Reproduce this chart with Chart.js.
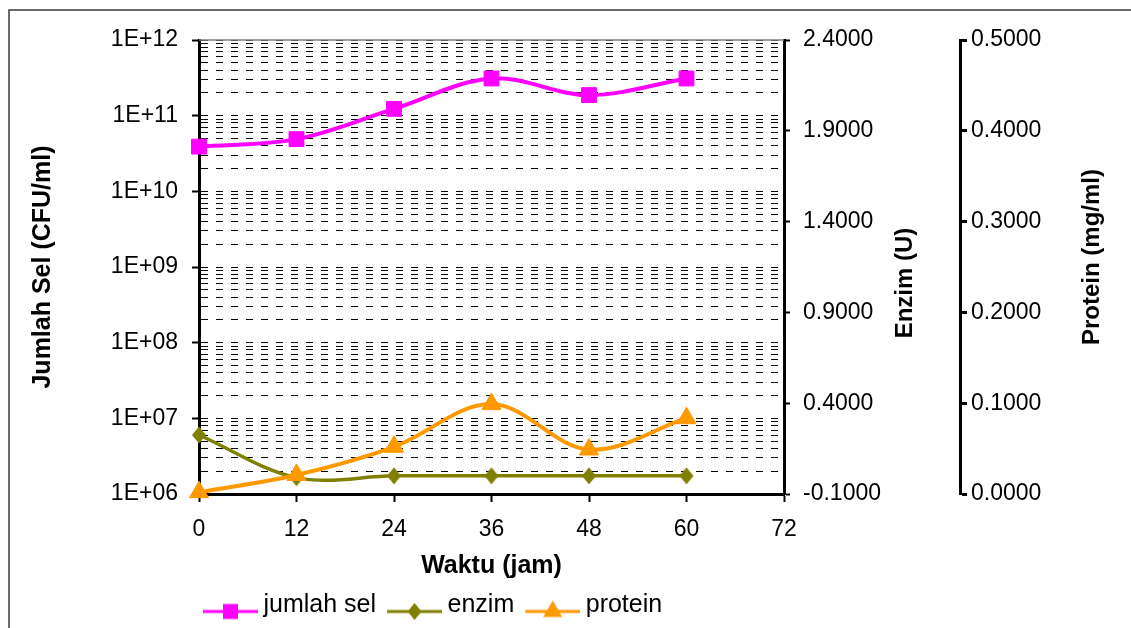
<!DOCTYPE html>
<html><head><meta charset="utf-8">
<script src="https://cdn.jsdelivr.net/npm/chart.js@4"></script>
<style>html,body{margin:0;padding:0;background:#fff}canvas{display:block}</style>
</head><body>
<canvas id="c" width="1131" height="628"></canvas>
<script>
// ---- data ----
const hours = [0, 12, 24, 36, 48, 60];
const jumlahSel = [3.9e10, 4.9e10, 1.23e11, 3.1e11, 1.87e11, 3.1e11];
const enzim = [0.225, -0.01, 0.0, 0.0, 0.0, 0.0];
const protein = [0.002, 0.021, 0.052, 0.099, 0.049, 0.0835];
const seriesNames = ['jumlah sel', 'enzim', 'protein'];
const xTicks = [0, 12, 24, 36, 48, 60, 72];
const selMajorTicks = [1e6, 1e7, 1e8, 1e9, 1e10, 1e11, 1e12];
const selTickLabels = ['1E+06', '1E+07', '1E+08', '1E+09', '1E+10', '1E+11', '1E+12'];
const selMinorFactors = [2, 3, 4, 5, 6, 7, 8, 9];
const enzimTicks = [-0.1, 0.4, 0.9, 1.4, 1.9, 2.4];
const proteinTicks = [0, 0.1, 0.2, 0.3, 0.4, 0.5];
const axisTitles = { x: 'Waktu (jam)', sel: 'Jumlah Sel (CFU/ml)', enzim: 'Enzim (U)', protein: 'Protein (mg/ml)' };

const selAllTicks = [];
selMajorTicks.forEach((m, i) => {
  selAllTicks.push(m);
  if (i < selMajorTicks.length - 1) selMinorFactors.forEach(f => selAllTicks.push(f * m));
});

const FONT = 'Liberation Sans';
Chart.defaults.font.family = FONT;
Chart.defaults.color = '#000';

const C_SEL = '#FF00FF', C_ENZ = '#808000', C_PRO = '#FF9900';

function drawShape(g, shape, cx, cy) {
  g.beginPath();
  if (shape === 'rect') g.rect(cx - 7.5, cy - 7.5, 15, 15);
  else if (shape === 'diamond') { g.moveTo(cx, cy - 8.5); g.lineTo(cx + 7, cy); g.lineTo(cx, cy + 8.5); g.lineTo(cx - 7, cy); g.closePath(); }
  else { g.moveTo(cx, cy - 11); g.lineTo(cx + 9.5, cy + 5.5); g.lineTo(cx - 9.5, cy + 5.5); g.closePath(); }
  g.fill();
}
function makeIcon(color, shape, lw) {
  const c = document.createElement('canvas');
  c.width = 59; c.height = 36;
  const g = c.getContext('2d');
  const cy = 24, cx = 31.5;
  g.strokeStyle = color; g.lineWidth = lw;
  g.beginPath(); g.moveTo(4, cy); g.lineTo(59, cy); g.stroke();
  g.fillStyle = color;
  drawShape(g, shape, cx, cy);
  return c;
}
function makeMarker(color, shape) {
  const c = document.createElement('canvas');
  c.width = 16; c.height = 20;
  const g = c.getContext('2d');
  g.fillStyle = color;
  drawShape(g, shape, 8, 10);
  return c;
}
const icons = [makeIcon(C_SEL, 'rect', 3), makeIcon(C_ENZ, 'diamond', 3), makeIcon(C_PRO, 'triangle', 3)];
const diamondMarker = makeMarker(C_ENZ, 'diamond');

const toXY = arr => hours.map((h, i) => ({ x: h, y: arr[i] }));

const extras = {
  id: 'extras',
  beforeDraw(chart) {
    const ctx = chart.ctx;
    ctx.save();
    ctx.fillStyle = '#fff';
    ctx.fillRect(0, 0, chart.width, chart.height);
    ctx.strokeStyle = '#3a3a3a';
    ctx.lineWidth = 1.5;
    ctx.strokeRect(9, 10, chart.width + 20, chart.height + 20);
    ctx.restore();
    chart.legend.left = chart.chartArea.left - 7;
  },
  beforeDatasetsDraw(chart) {
    const { ctx, chartArea: a } = chart;
    ctx.save();
    ctx.strokeStyle = '#808080';
    ctx.lineWidth = 1.5;
    ctx.beginPath();
    ctx.moveTo(a.left, a.top);
    ctx.lineTo(a.right, a.top);
    ctx.stroke();
    ctx.restore();
  },
  afterDraw(chart) {
    const { ctx, chartArea: a } = chart;
    const mid = (a.top + a.bottom) / 2;
    const sE = chart.scales.yE, sP = chart.scales.yP;
    [[axisTitles.enzim, sE.left + 121, mid + 16], [axisTitles.protein, sP.left + 132, mid - 10]].forEach(([t, x, y]) => {
      ctx.save();
      ctx.fillStyle = '#000';
      ctx.font = 'bold 24px ' + FONT;
      ctx.textAlign = 'center';
      ctx.textBaseline = 'middle';
      ctx.translate(x, y);
      ctx.rotate(-Math.PI / 2);
      ctx.fillText(t, 0, 0);
      ctx.restore();
    });
  }
};

new Chart(document.getElementById('c'), {
  type: 'line',
  data: {
    datasets: [
      { label: seriesNames[0], data: toXY(jumlahSel), yAxisID: 'y', order: 0,
        borderColor: C_SEL, backgroundColor: C_SEL, borderWidth: 4,
        pointStyle: 'rect', pointRadius: 10.5, pointBorderWidth: 1, tension: 0.35, clip: false },
      { label: seriesNames[1], data: toXY(enzim), yAxisID: 'yE', order: 2,
        borderColor: C_ENZ, backgroundColor: C_ENZ, borderWidth: 3.5,
        pointStyle: diamondMarker, pointRadius: 9, pointBorderWidth: 1, tension: 0.35, clip: false },
      { label: seriesNames[2], data: toXY(protein), yAxisID: 'yP', order: 1,
        borderColor: C_PRO, backgroundColor: C_PRO, borderWidth: 4,
        pointStyle: 'triangle', pointRadius: 11, pointBorderWidth: 1, tension: 0.35, clip: false }
    ]
  },
  options: {
    responsive: false,
    animation: false,
    devicePixelRatio: 1,
    events: [],
    layout: { padding: { left: 25, top: 40, right: 0, bottom: 0 } },
    plugins: {
      tooltip: { enabled: false },
      legend: {
        position: 'bottom',
        align: 'start',
        labels: {
          usePointStyle: true,
          pointStyleWidth: 45,
          padding: 14,
          color: '#000',
          font: { size: 25 },
          sort: (a, b) => a.datasetIndex - b.datasetIndex,
          generateLabels: chart => chart.data.datasets.map((d, i) => ({
            text: d.label, pointStyle: icons[i], datasetIndex: i, hidden: false,
            fillStyle: d.borderColor, strokeStyle: d.borderColor, lineWidth: 0, fontColor: '#000'
          }))
        }
      }
    },
    scales: {
      x: {
        type: 'linear', position: 'bottom', min: 0, max: 72,
        afterBuildTicks: s => { s.ticks = xTicks.map(v => ({ value: v })); },
        ticks: { font: { size: 23 }, padding: 14, autoSkip: false, maxRotation: 0, callback: v => String(v) },
        grid: { drawOnChartArea: false, tickLength: 8, tickColor: '#000', tickWidth: 2 },
        border: { color: '#000', width: 3 },
        title: { display: true, text: axisTitles.x, font: { size: 25, weight: 'bold', lineHeight: 1 }, padding: 0 },
        afterFit: s => { s.height = 85; }
      },
      y: {
        type: 'logarithmic', position: 'left', min: 1e6, max: 1e12,
        afterBuildTicks: s => { s.ticks = selAllTicks.map(v => ({ value: v })); },
        ticks: { font: { size: 23 }, padding: 14, autoSkip: false,
          callback: v => { const i = selMajorTicks.indexOf(v); return i >= 0 ? selTickLabels[i] : ''; } },
        grid: { color: '#000', lineWidth: 1, tickLength: 7, tickWidth: 2,
          tickColor: c => (c.tick && selMajorTicks.indexOf(c.tick.value) >= 0) ? '#000' : 'rgba(0,0,0,0)' },
        border: { color: '#000', width: 3, dash: [7, 8] },
        title: { display: true, text: axisTitles.sel, font: { size: 25, weight: 'bold', lineHeight: 1 }, padding: { top: 6, bottom: 0 } },
        afterFit: s => { s.width = 174; }
      },
      yE: {
        type: 'linear', position: 'right', min: -0.1, max: 2.4, weight: 0,
        afterBuildTicks: s => { s.ticks = enzimTicks.map(v => ({ value: v })); },
        ticks: { font: { size: 23 }, padding: 13, autoSkip: false, callback: v => Number(v).toFixed(4) },
        grid: { drawOnChartArea: false, tickLength: 6, tickWidth: 2, tickColor: '#000' },
        border: { color: '#000', width: 3 },
        afterFit: s => { s.width = 176; }
      },
      yP: {
        type: 'linear', position: 'right', min: 0, max: 0.5, weight: 1,
        afterBuildTicks: s => { s.ticks = proteinTicks.map(v => ({ value: v })); },
        ticks: { font: { size: 23 }, padding: 4, autoSkip: false, callback: v => Number(v).toFixed(4) },
        grid: { drawOnChartArea: false, tickLength: 7, tickWidth: 3, tickColor: '#000' },
        border: { color: '#000', width: 3 },
        afterFit: s => { s.width = 171; }
      }
    }
  },
  plugins: [extras]
});
</script>
</body></html>
